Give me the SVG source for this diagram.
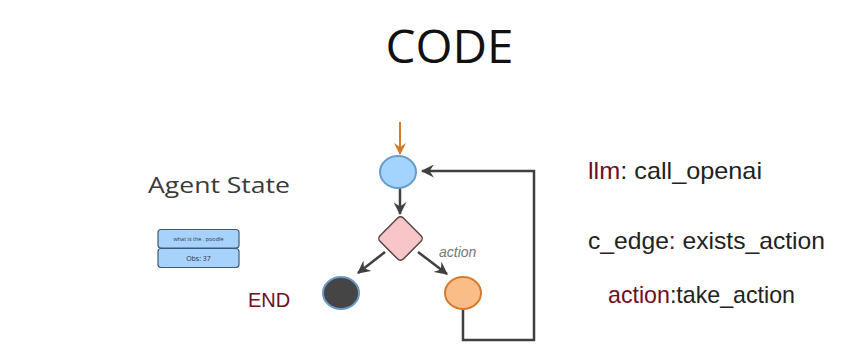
<svg xmlns="http://www.w3.org/2000/svg" width="851" height="364" viewBox="0 0 851 364">
<defs>
<marker id="ah" viewBox="0 0 12 12" refX="11" refY="6" markerWidth="13" markerHeight="13" markerUnits="userSpaceOnUse" orient="auto">
<path d="M0,0 L12,6 L0,12 L4,6 z" fill="#404040"/>
</marker>
<marker id="aho" viewBox="0 0 12 12" refX="11" refY="6" markerWidth="12" markerHeight="12" markerUnits="userSpaceOnUse" orient="auto">
<path d="M0,0 L12,6 L0,12 L4,6 z" fill="#d97a2a"/>
</marker>
</defs>
<style>
.edge{fill:none;stroke:#404040;stroke-width:2.5}
.title{font-family:"Open Sans","Liberation Sans",sans-serif;fill:#111}
.label{font-family:"Liberation Sans",Arial,sans-serif;font-size:24px;fill:#222}
.red{fill:#6e0e1e}
.box{fill:#a6d2fb;stroke:#3e5a78;stroke-width:1.2}
.small{font-family:"Open Sans","Liberation Sans",sans-serif;fill:#334;text-anchor:middle}
</style>
<rect width="851" height="364" fill="#ffffff"/>
<text class="title" x="449.5" y="63" font-size="46" text-anchor="middle" textLength="128" lengthAdjust="spacingAndGlyphs">CODE</text>
<g id="agent-state">
<text class="title" x="148" y="193" font-size="22" style="fill:#3a3a3a" textLength="142" lengthAdjust="spacingAndGlyphs">Agent State</text>
<rect class="box" x="158" y="229.5" width="81" height="18.5" rx="3"/>
<text class="small" x="198.5" y="241" font-size="5.5">what is the . poodle</text>
<rect class="box" x="158" y="248.5" width="81" height="19" rx="3"/>
<text class="small" x="198.5" y="261" font-size="7">Obs: 37</text>
</g>
<g id="connectors">
<line x1="400" y1="122" x2="400" y2="154" stroke="#d97a2a" stroke-width="2" marker-end="url(#aho)"/>
<line class="edge" x1="400" y1="188" x2="400" y2="214" marker-end="url(#ah)"/>
<line class="edge" x1="385" y1="252" x2="358" y2="273" marker-end="url(#ah)"/>
<line class="edge" x1="418" y1="252" x2="447" y2="274" marker-end="url(#ah)"/>
<polyline class="edge" points="463,309 463,340 534,340 534,171 422,171" marker-end="url(#ah)"/>
<text x="439" y="257" font-family="Liberation Sans,Arial,sans-serif" font-size="14" font-style="italic" fill="#777">action</text>
</g>
<g id="llm">
<ellipse cx="398" cy="172" rx="18" ry="16" fill="#a3d3ff" stroke="#6a9ccc" stroke-width="2"/>
</g>
<g id="c_edge">
<rect x="384" y="222" width="33" height="33" rx="4" transform="rotate(45 400.5 238.5)" fill="#f8c5c8" stroke="#5a4545" stroke-width="1.5"/>
</g>
<g id="end">
<ellipse cx="341" cy="293" rx="18" ry="16" fill="#454545" stroke="#6a9ac8" stroke-width="2"/>
<text x="248" y="307" font-family="Liberation Sans,Arial,sans-serif" font-size="20" class="red">END</text>
</g>
<g id="action">
<ellipse cx="463" cy="293" rx="18" ry="16" fill="#fbbd88" stroke="#d77a2a" stroke-width="2"/>
</g>
<g id="legend">
<text class="label" x="588" y="179" textLength="174" lengthAdjust="spacingAndGlyphs"><tspan class="red">llm</tspan>: call_openai</text>
<text class="label" x="588" y="249" textLength="237" lengthAdjust="spacingAndGlyphs">c_edge<tspan class="red">:</tspan> exists_action</text>
<text class="label" x="608" y="303" textLength="187" lengthAdjust="spacingAndGlyphs"><tspan class="red">action</tspan>:take_action</text>
</g>
</svg>
